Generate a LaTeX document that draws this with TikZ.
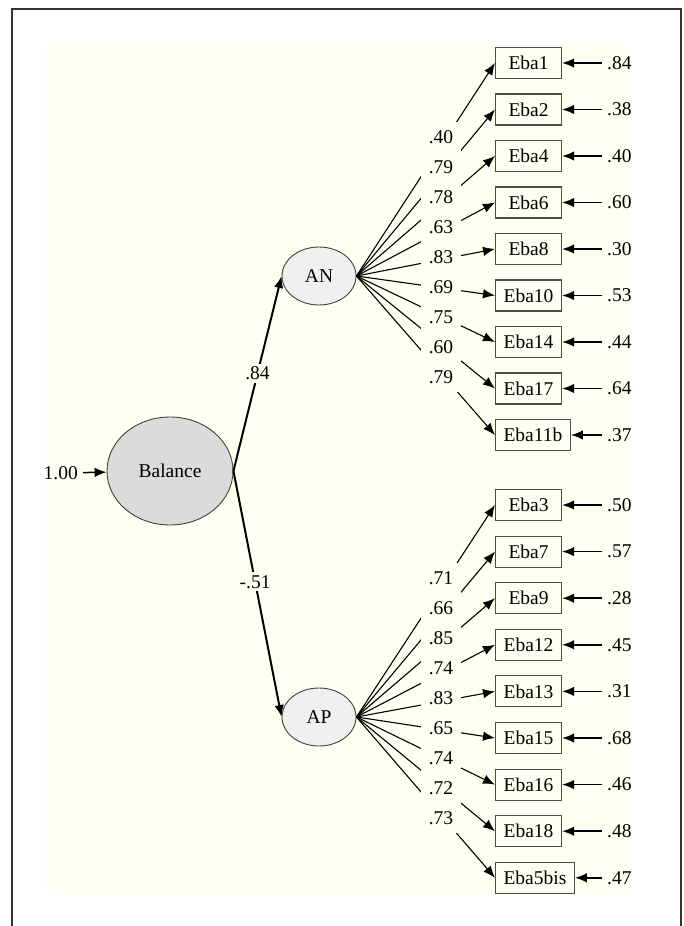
\documentclass[tikz,border=0pt]{standalone}
\usepackage{fontspec}
\setmainfont{Liberation Serif}
\usepackage{xcolor}
\usepackage{tikz}
\usetikzlibrary{arrows.meta,shapes}
\definecolor{cream}{HTML}{FFFFF2}

\begin{document}
\begin{tikzpicture}[x=1pt, y=-1pt, font=\fontsize{19.5}{23}\selectfont, >={Latex[length=12pt,width=9.5pt]}]
\tikzstyle{latent} = [ellipse, draw=black!75, fill=black!6, line width=0.9pt, minimum width=74pt, minimum height=58pt, inner sep=0pt]
\tikzstyle{ind} = [rectangle, draw=black!70, fill=cream, line width=1.1pt, anchor=west, minimum width=66pt, minimum height=31pt, inner xsep=8pt]
\tikzstyle{err} = [anchor=west, inner xsep=5pt, inner ysep=2pt]
\tikzstyle{load} = [fill=cream, inner sep=0pt, minimum width=40pt, minimum height=30.5pt]
\tikzstyle{res} = [->, line width=1.5pt]
\tikzstyle{fac} = [->, line width=1.1pt]
\useasboundingbox (0,0) rectangle (684,926);
% frame and background
\fill [cream] (46,46) rectangle (629,893);
\draw [black!80, line width=1.3pt] (12,926) -- (12,9) -- (681,9) -- (681,926);
% latent variables
\node [latent, minimum width=126pt, minimum height=108pt, fill=black!14] (bal) at (170,471) {Balance};
\node [latent] (an) at (319,276) {AN};
\node [latent] (ap) at (319,717) {AP};
\node [err, anchor=east] (v0) at (83,473) {1.00};
\draw [res] (v0) -- (bal);
\draw [->, line width=2pt] (bal.east) -- node [fill=cream, inner sep=3pt] (l84) {.84} (an.west);
\draw [->, line width=2pt] (bal.east) -- node [fill=cream, inner sep=3pt, pos=0.45] (l51) {-.51} (ap.west);
% AN items
\node [ind] (b1) at (495,63) {Eba1};
\node [ind] (b2) at (495,109.5) {Eba2};
\node [ind] (b4) at (495,156) {Eba4};
\node [ind] (b6) at (495,202.5) {Eba6};
\node [ind] (b8) at (495,249) {Eba8};
\node [ind] (b10) at (495,295.5) {Eba10};
\node [ind] (b14) at (495,342) {Eba14};
\node [ind] (b17) at (495,388.5) {Eba17};
\node [ind] (b11) at (495,435) {Eba11b};
% AP items
\node [ind] (b3) at (495,505) {Eba3};
\node [ind] (b7) at (495,551.6) {Eba7};
\node [ind] (b9) at (495,598.2) {Eba9};
\node [ind] (b12) at (495,644.8) {Eba12};
\node [ind] (b13) at (495,691.4) {Eba13};
\node [ind] (b15) at (495,738) {Eba15};
\node [ind] (b16) at (495,784.6) {Eba16};
\node [ind] (b18) at (495,831.2) {Eba18};
\node [ind] (b5) at (495,877.8) {Eba5bis};
% error terms
\node [err] (e1) at (602,63) {.84};
\node [err] (e2) at (602,109.5) {.38};
\node [err] (e4) at (602,156) {.40};
\node [err] (e6) at (602,202.5) {.60};
\node [err] (e8) at (602,249) {.30};
\node [err] (e10) at (602,295.5) {.53};
\node [err] (e14) at (602,342) {.44};
\node [err] (e17) at (602,388.5) {.64};
\node [err] (e11) at (602,435) {.37};
\node [err] (e3) at (602,505) {.50};
\node [err] (e7) at (602,551.6) {.57};
\node [err] (e9) at (602,598.2) {.28};
\node [err] (e12) at (602,644.8) {.45};
\node [err] (e13) at (602,691.4) {.31};
\node [err] (e15) at (602,738) {.68};
\node [err] (e16) at (602,784.6) {.46};
\node [err] (e18) at (602,831.2) {.48};
\node [err] (e5) at (602,877.8) {.47};
\draw [res] (e1) -- (b1);
\draw [res] (e2) -- (b2);
\draw [res] (e4) -- (b4);
\draw [res] (e6) -- (b6);
\draw [res] (e8) -- (b8);
\draw [res] (e10) -- (b10);
\draw [res] (e14) -- (b14);
\draw [res] (e17) -- (b17);
\draw [res] (e11) -- (b11);
\draw [res] (e3) -- (b3);
\draw [res] (e7) -- (b7);
\draw [res] (e9) -- (b9);
\draw [res] (e12) -- (b12);
\draw [res] (e13) -- (b13);
\draw [res] (e15) -- (b15);
\draw [res] (e16) -- (b16);
\draw [res] (e18) -- (b18);
\draw [res] (e5) -- (b5);
% loadings
\draw [fac] (an.east) -- (b1.west);
\draw [fac] (an.east) -- (b2.west);
\draw [fac] (an.east) -- (b4.west);
\draw [fac] (an.east) -- (b6.west);
\draw [fac] (an.east) -- (b8.west);
\draw [fac] (an.east) -- (b10.west);
\draw [fac] (an.east) -- (b14.west);
\draw [fac] (an.east) -- (b17.west);
\draw [fac] (an.east) -- (b11.west);
\draw [fac] (ap.east) -- (b3.west);
\draw [fac] (ap.east) -- (b7.west);
\draw [fac] (ap.east) -- (b9.west);
\draw [fac] (ap.east) -- (b12.west);
\draw [fac] (ap.east) -- (b13.west);
\draw [fac] (ap.east) -- (b15.west);
\draw [fac] (ap.east) -- (b16.west);
\draw [fac] (ap.east) -- (b18.west);
\draw [fac] (ap.east) -- (b5.west);
\node [load] (l1) at (441,137) {.40};
\node [load] (l2) at (441,167) {.79};
\node [load] (l4) at (441,197) {.78};
\node [load] (l6) at (441,227) {.63};
\node [load] (l8) at (441,257) {.83};
\node [load] (l10) at (441,287) {.69};
\node [load] (l14) at (441,317) {.75};
\node [load] (l17) at (441,347) {.60};
\node [load] (l11) at (441,377) {.79};
\node [load] (l3) at (441,578) {.71};
\node [load] (l7) at (441,608) {.66};
\node [load] (l9) at (441,638) {.85};
\node [load] (l12) at (441,668) {.74};
\node [load] (l13) at (441,698) {.83};
\node [load] (l15) at (441,728) {.65};
\node [load] (l16) at (441,758) {.74};
\node [load] (l18) at (441,788) {.72};
\node [load] (l5) at (441,818) {.73};
\end{tikzpicture}
\end{document}
